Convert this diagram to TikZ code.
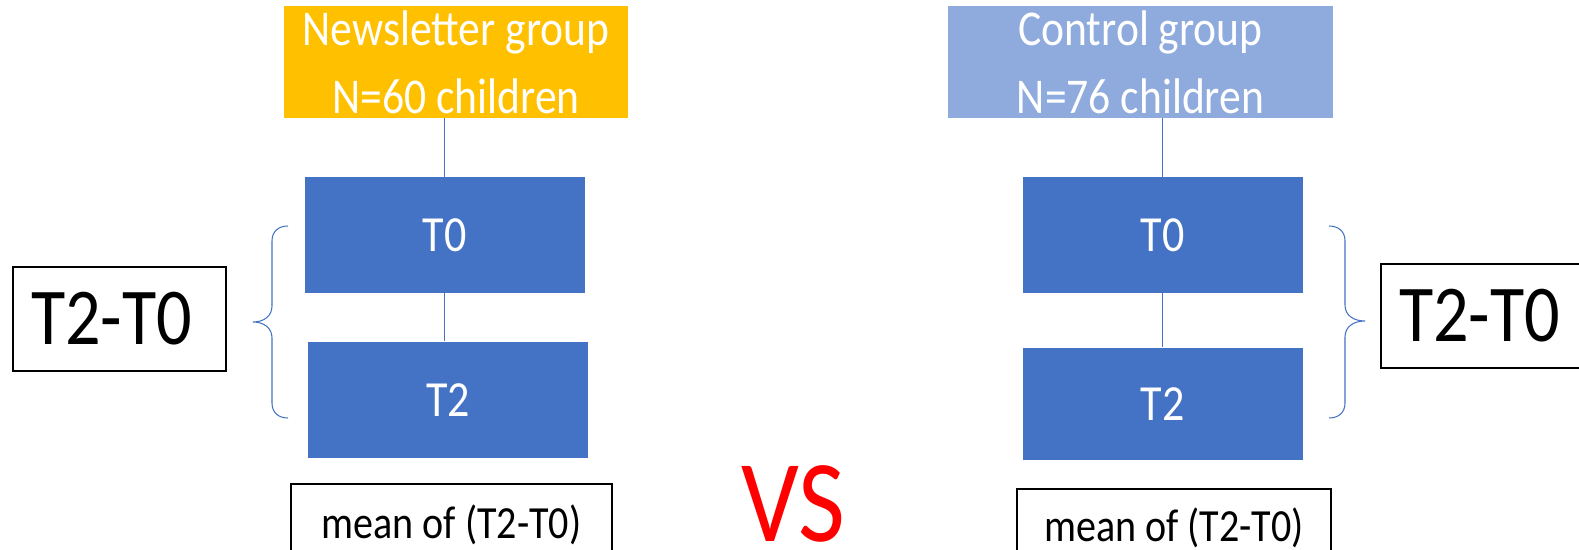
\documentclass[tikz,border=0pt]{standalone}
\usepackage{fontspec}
\setmainfont{Carlito}[FakeStretch=0.87]
\usetikzlibrary{positioning, calc}

\definecolor{grpgold}{HTML}{FFC000}
\definecolor{grpblue}{HTML}{8FAADC}
\definecolor{blockblue}{HTML}{4472C4}

\begin{document}
\begin{tikzpicture}[
  grpbox/.style={
    draw=none, text=white,
    font=\fontsize{28.5}{38.7}\selectfont,
    minimum height=2.22cm, inner sep=0pt,
    align=center
  },
  blockbox/.style={
    fill=blockblue, draw=none, text=white,
    font=\fontsize{28.8}{34}\selectfont,
    minimum width=5.6cm, minimum height=2.32cm
  },
  diffbox/.style={
    draw=black, line width=1.1pt, fill=white,
    font=\fontsize{45.9}{52}\selectfont,
    minimum width=4.26cm, minimum height=2.08cm,
    text width=3.54cm, inner xsep=0.36cm, align=left
  },
  meanbox/.style={
    draw=black, line width=0.9pt, fill=white,
    font=\fontsize{26.2}{30}\selectfont
  },
  link/.style={draw=blockblue, line width=0.8pt},
  brc/.style={draw=blockblue, line width=0.6pt}
]
\useasboundingbox (0,0) rectangle (31.58,-11.0);

%% Newsletter group (left)
\node[grpbox, fill=grpgold, minimum width=6.88cm] (newsl) at (9.12,-1.24)
  {Newsletter group\\N=60 children};

\node[blockbox] (t0l) at (8.89,-4.70) {T0};
\node[blockbox, below=0.96cm of t0l, xshift=0.07cm] (t2l) {T2};

\draw[link] (t0l.north) -- (t0l.north |- newsl.south);
\draw[link] (t0l.south) -- (t0l.south |- t2l.north);

\node[diffbox] (diffl) at (2.39,-6.38) {T2-T0};

\draw[brc] (5.76,-4.52) .. controls (5.58,-4.52) and (5.44,-4.62) .. (5.44,-4.82)
  -- (5.44,-6.12) .. controls (5.44,-6.32) and (5.28,-6.44) .. (5.06,-6.44)
  .. controls (5.28,-6.44) and (5.44,-6.56) .. (5.44,-6.76)
  -- (5.44,-8.06) .. controls (5.44,-8.26) and (5.58,-8.36) .. (5.76,-8.36);

\node[meanbox, minimum width=6.42cm, minimum height=1.64cm] (meanl) at (9.03,-10.50)
  {mean of (T2-T0)};

%% Control group (right)
\node[grpbox, fill=grpblue, minimum width=7.70cm] (ctrl) at (22.81,-1.24)
  {Control group\\N=76 children};

\node[blockbox] (t0r) at (23.25,-4.70) {T0};
\node[blockbox, below=1.08cm of t0r, minimum height=2.24cm] (t2r) {T2};

\draw[link] (t0r.north) -- (t0r.north |- ctrl.south);
\draw[link] (t0r) -- (t2r);

\node[diffbox] (diffr) at (29.75,-6.32) {T2-T0};

\draw[brc] (26.58,-4.52) .. controls (26.76,-4.52) and (26.90,-4.62) .. (26.90,-4.82)
  -- (26.90,-6.10) .. controls (26.90,-6.30) and (27.06,-6.42) .. (27.30,-6.42)
  .. controls (27.06,-6.42) and (26.90,-6.54) .. (26.90,-6.74)
  -- (26.90,-8.06) .. controls (26.90,-8.26) and (26.76,-8.36) .. (26.58,-8.36);

\node[meanbox, minimum width=6.28cm, minimum height=1.54cm] (meanr) at (23.48,-10.55)
  {mean of (T2-T0)};

%% VS
\node[text=red, font=\fontsize{66.6}{70}\selectfont, inner sep=0pt] (vs) at (15.87,-10.07) {VS};

\end{tikzpicture}
\end{document}
